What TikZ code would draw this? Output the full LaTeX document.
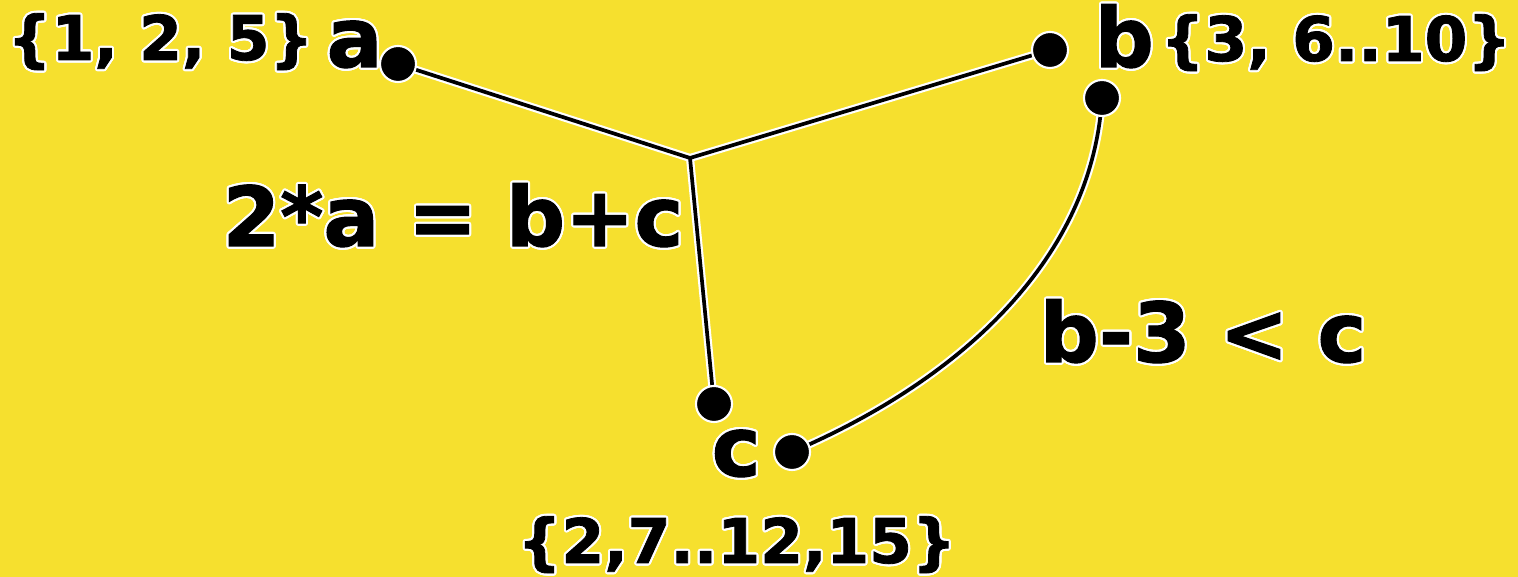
\documentclass[tikz,border=0pt]{standalone}
\usepackage{fontspec}
\setmainfont{DejaVu Sans}[BoldFeatures={FakeBold=1.3}]
\usepackage[copies]{contour}
\contourlength{0.6pt}
\contournumber{24}
\usepackage{xcolor}
\definecolor{bgyellow}{RGB}{246,224,46}
\pgfdeclarelayer{background}
\pgfsetlayers{background,main}

\begin{document}
\begin{tikzpicture}[
  x=0.01cm, y=-0.01cm,
  dot/.style={circle, fill=black, draw=white, line width=0.6pt,
              minimum size=0.36cm, inner sep=0pt},
  big/.style={font=\fontsize{23.5}{28}\selectfont\bfseries, inner sep=0pt, anchor=base west},
  small/.style={font=\fontsize{17.5}{21}\selectfont\bfseries, inner sep=0pt, anchor=base west},
  wire/.style={line width=1.05pt, line join=round,
               preaction={draw=white, line width=2.3pt}}
]

% variables
\node[dot] (adot)  at (398,64)  {};
\node[dot] (bdot)  at (1050,50) {};
\node[dot] (bdot2) at (1102,98) {};
\node[dot] (cdot)  at (714,404) {};
\node[dot] (cdot2) at (792,452) {};
\coordinate (j) at (690,158);

% names and domains
\node[small] (aset) at (7,60)     {\contour{white}{\{1, 2, 5\}}};
\node[big]   (alab) at (326,67)   {\contour{white}{a}};
\node[big]   (blab) at (1094,67)  {\contour{white}{b}};
\node[small] (bset) at (1160,61)  {\contour{white}{\{3, 6..10\}}};
\node[big]   (clab) at (711,476)  {\contour{white}{c}};
\node[small] (cset) at (517,563)  {\contour{white}{\{2,7..12,15\}}};

% constraints
\node[big] (sumrule)  at (222,246)  {\contour{white}{2*a = b+c}};
\node[big] (lessrule) at (1039,362) {\contour{white}{b-3 < c}};

\begin{pgfonlayer}{background}
\fill[bgyellow] (0,0) rectangle (1518,577);
\draw[wire] (adot.center) -- (j) -- (bdot.center) (j) -- (cdot.center);
\draw[wire] (bdot2.center) .. controls (1092,260) and (960,380) .. (cdot2.center);
\end{pgfonlayer}

\end{tikzpicture}
\end{document}
